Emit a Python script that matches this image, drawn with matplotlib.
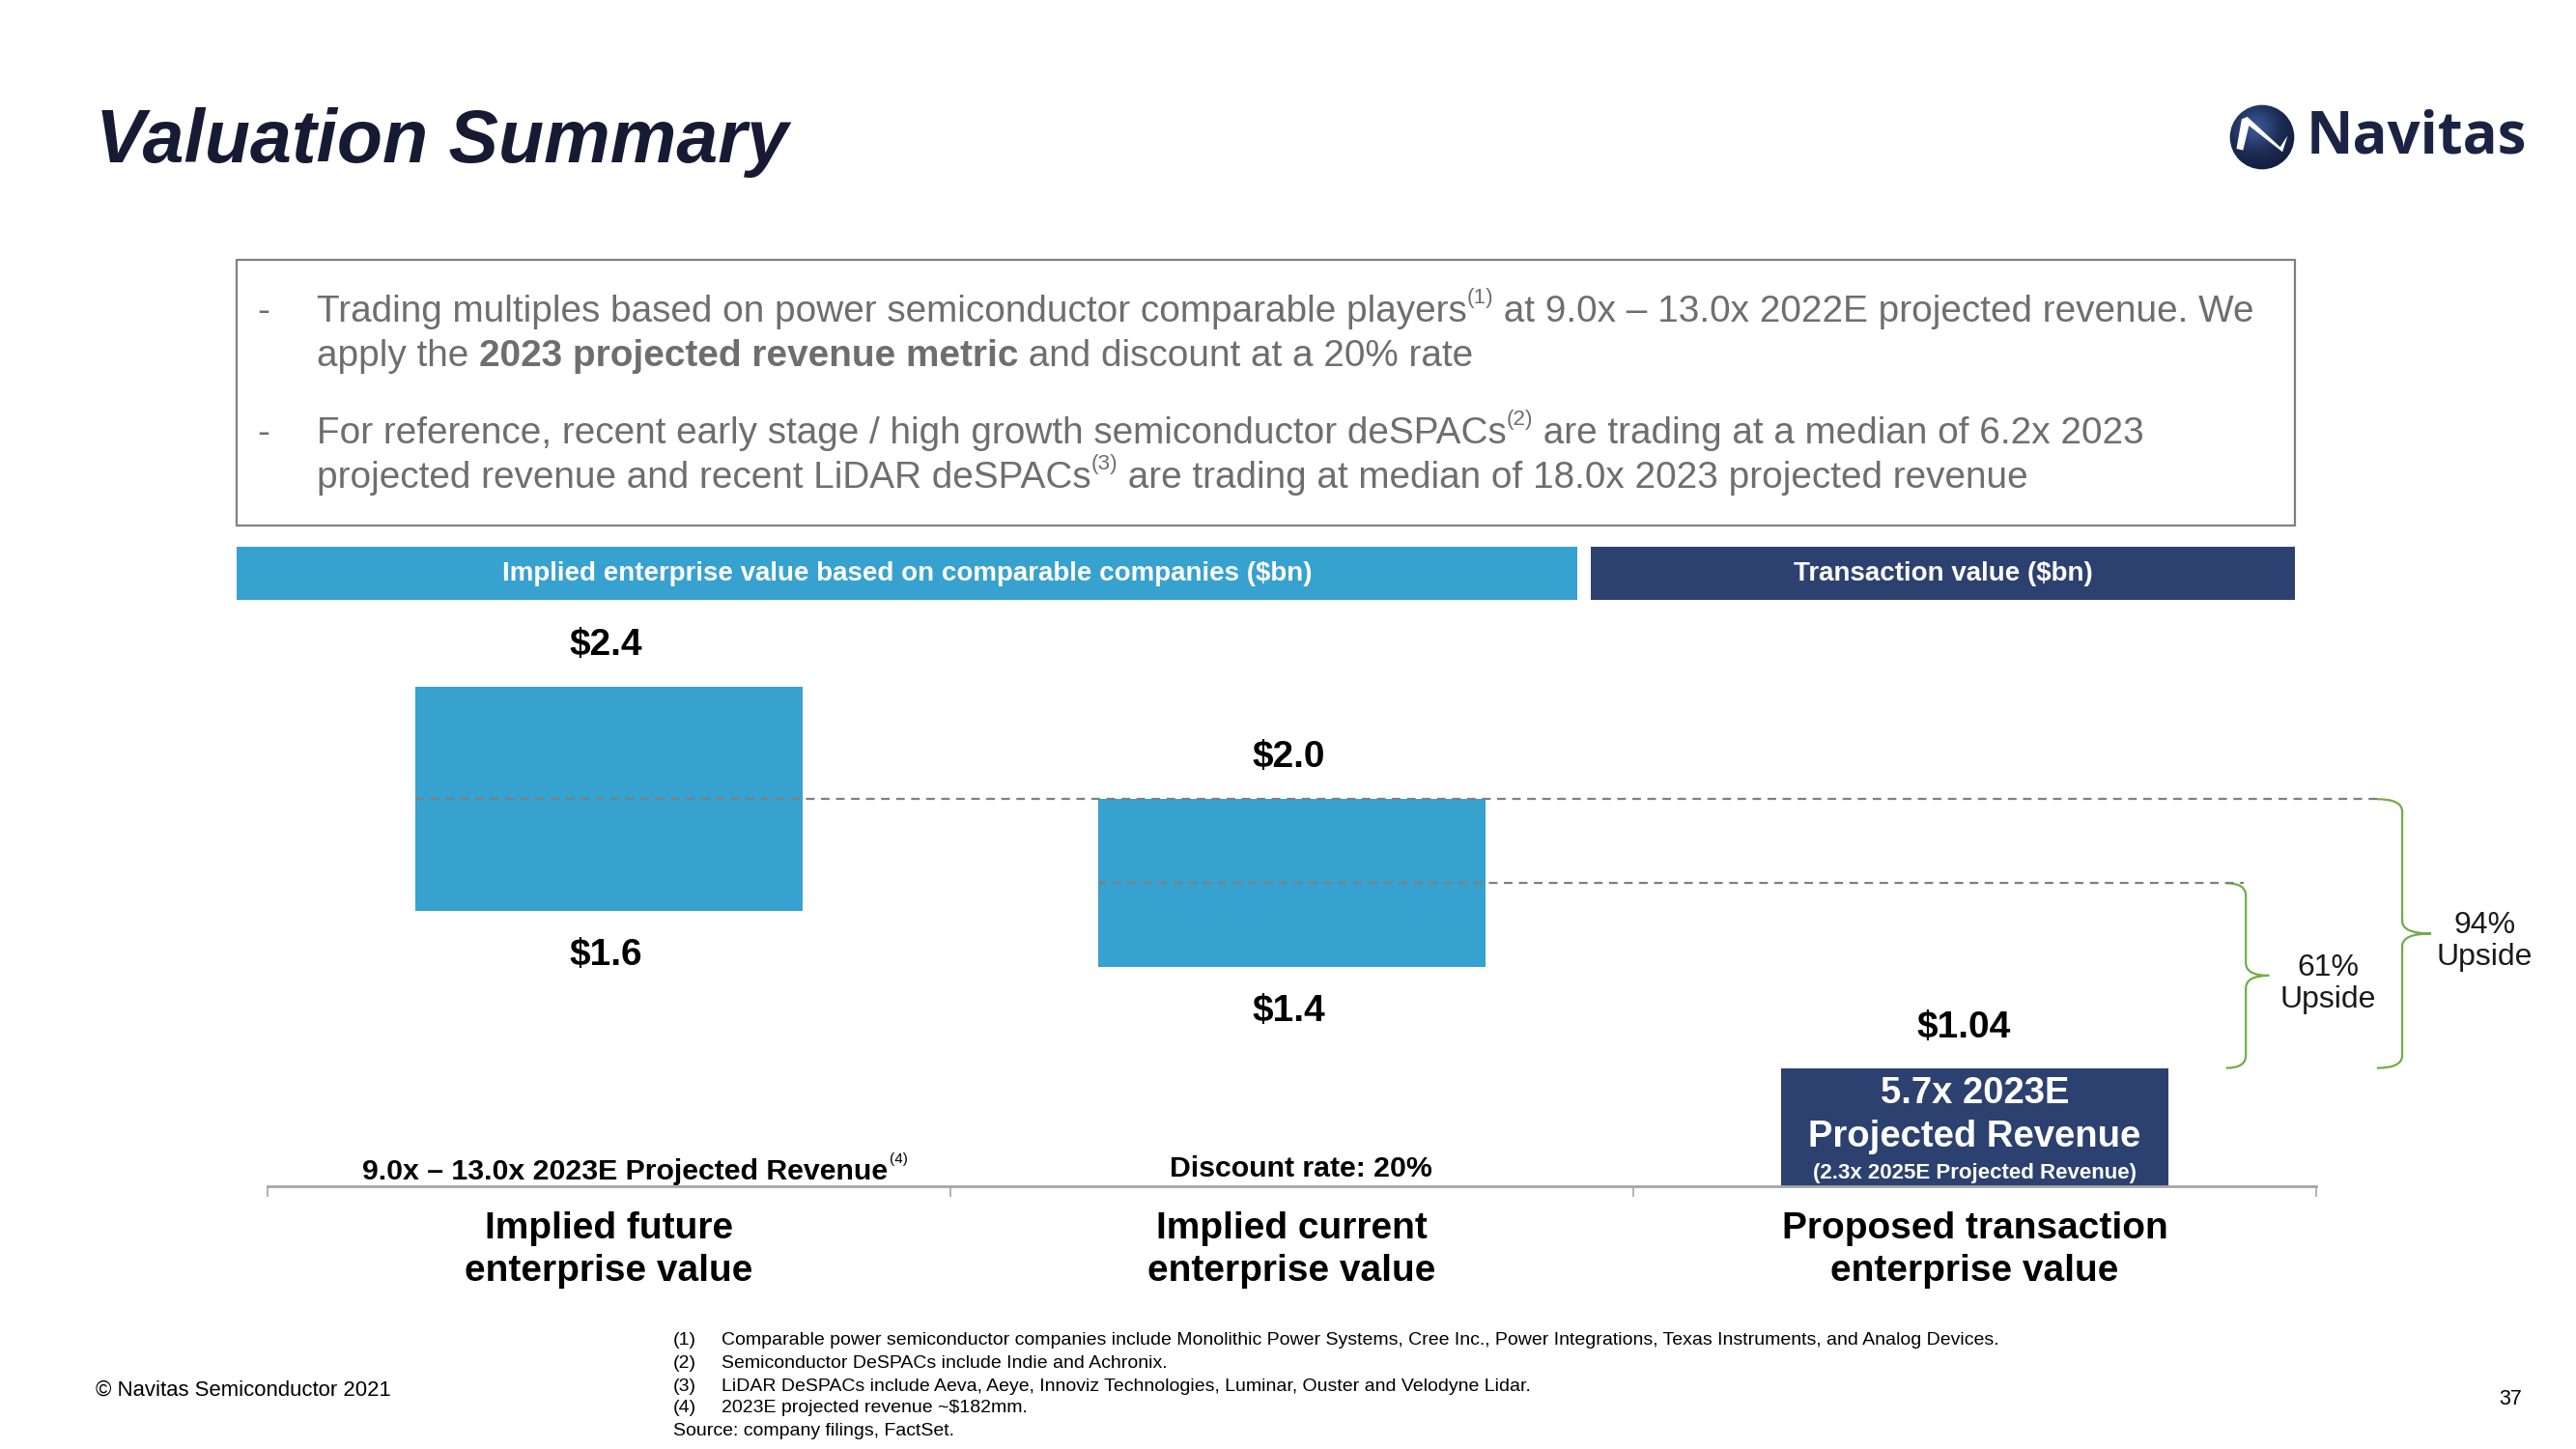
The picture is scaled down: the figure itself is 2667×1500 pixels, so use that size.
import numpy as np
import matplotlib
matplotlib.use("Agg")
import matplotlib.pyplot as plt
from matplotlib.patches import Rectangle, Circle, PathPatch
from matplotlib.path import Path

plt.rcParams['font.family'] = ['Liberation Sans', 'DejaVu Sans']

# ---- data ----
categories = ["Implied future\nenterprise value",
              "Implied current\nenterprise value",
              "Proposed transaction\nenterprise value"]
ev_high = [2.4, 2.0]
ev_low = [1.6, 1.4]
transaction_value = 1.04
category_notes = ["9.0x \u2013 13.0x 2023E Projected Revenue", "Discount rate: 20%"]
box_lines = ["5.7x 2023E\nProjected Revenue", "(2.3x 2025E Projected Revenue)"]
upside_pct = [94, 61]
upside_from = [2.0, 1.7]
headers = ["Implied enterprise value based on comparable companies ($bn)",
           "Transaction value ($bn)"]
footnotes = [
    ("(1)", "Comparable power semiconductor companies include Monolithic Power Systems, Cree Inc., "
            "Power Integrations, Texas Instruments, and Analog Devices."),
    ("(2)", "Semiconductor DeSPACs include Indie and Achronix."),
    ("(3)", "LiDAR DeSPACs include Aeva, Aeye, Innoviz Technologies, Luminar, Ouster and Velodyne Lidar."),
    ("(4)", "2023E projected revenue ~$182mm."),
]
source = "Source: company filings, FactSet."

LIGHT = '#37A1CF'
NAVY = '#2C4170'
TITLE = '#161B33'
GREY_TXT = '#6E6E6E'
GREEN = '#70AD47'

W, H, DPI = 2667, 1500, 100
fig = plt.figure(figsize=(W / DPI, H / DPI), dpi=DPI)
r = fig.canvas.get_renderer()


def fx(x):
    return x / W


def fy(y):
    return 1 - y / H


def seg_width(s, **kw):
    t1 = fig.text(0, 0, 'l' + s + 'l', **kw)
    t2 = fig.text(0, 0, 'll', **kw)
    w = t1.get_window_extent(r).width - t2.get_window_extent(r).width
    t1.remove()
    t2.remove()
    return w


def draw_runs(x, y, parts, size, color):
    # parts: (text, bold, superscript)
    for s, bold, sup in parts:
        kw = dict(size=size * 0.58 if sup else size,
                  weight='bold' if bold else 'normal', color=color)
        yy = y - (size * 0.48 * DPI / 72 if sup else 0)
        fig.text(fx(x), fy(yy), s, va='baseline', ha='left', **kw)
        x += seg_width(s, **kw)


# ---- title and logo ----
fig.text(fx(99), fy(148), "Valuation Summary", size=55.5, weight='bold',
         style='italic', color=TITLE, va='center', ha='left')

lax = fig.add_axes([fx(2308), fy(176), 68 / W, 68 / H])
lax.set_xlim(-1, 1)
lax.set_ylim(-1, 1)
lax.axis('off')
gx, gy = np.meshgrid(np.linspace(-1, 1, 100), np.linspace(-1, 1, 100))
grad = np.sqrt((gx + 0.2) ** 2 + (gy - 0.3) ** 2)
im = lax.imshow(grad, extent=(-1, 1, -1, 1), origin='lower',
                cmap=matplotlib.colors.LinearSegmentedColormap.from_list(
                    'nv', ['#3D5C9A', '#1C2C55', '#0E1733']), vmin=0, vmax=1.6)
clip = Circle((0, 0), 0.98, transform=lax.transData)
im.set_clip_path(clip)
swoosh = np.array([(-0.78, -0.35), (-0.62, 0.55), (-0.45, 0.62), (0.55, -0.30),
                   (0.78, 0.05), (0.62, -0.45), (-0.40, 0.35), (-0.58, -0.40)])
lax.add_patch(plt.Polygon(swoosh, closed=True, color='white', lw=0))
fig.text(fx(2388), fy(143), "Navitas", size=43, weight='bold', color='#1B2345',
         va='center', ha='left', family=['Open Sans', 'DejaVu Sans'])

# ---- text box ----
fig.add_artist(Rectangle((fx(245), fy(544)), (2376 - 245) / W, (544 - 269) / H,
                         transform=fig.transFigure, fill=False,
                         edgecolor='#808080', lw=1.6))
bsize = 27.9
for y in (333, 459):
    fig.text(fx(266), fy(y), "-", size=bsize, color=GREY_TXT, va='baseline')
draw_runs(328, 333, [("Trading multiples based on power semiconductor comparable players", False, False),
                     ("(1)", False, True),
                     (" at 9.0x \u2013 13.0x 2022E projected revenue. We", False, False)],
          bsize, GREY_TXT)
draw_runs(328, 379, [("apply the ", False, False),
                     ("2023 projected revenue metric", True, False),
                     (" and discount at a 20% rate", False, False)],
          bsize, GREY_TXT)
draw_runs(328, 459, [("For reference, recent early stage / high growth semiconductor deSPACs", False, False),
                     ("(2)", False, True),
                     (" are trading at a median of 6.2x 2023", False, False)],
          bsize, GREY_TXT)
draw_runs(328, 505, [("projected revenue and recent LiDAR deSPACs", False, False),
                     ("(3)", False, True),
                     (" are trading at median of 18.0x 2023 projected revenue", False, False)],
          bsize, GREY_TXT)

# ---- header bars ----
for (x0, x1), color, label in zip([(245, 1633), (1647, 2376)], [LIGHT, NAVY], headers):
    fig.add_artist(Rectangle((fx(x0), fy(621)), (x1 - x0) / W, (621 - 566) / H,
                             transform=fig.transFigure, color=color, lw=0))
    fig.text(fx((x0 + x1) / 2), fy(594), label, size=20, weight='bold',
             color='white', ha='center', va='center')

# ---- chart ----
ax = fig.add_axes([fx(277), fy(1228), (2398 - 277) / W, (1228 - 640) / H])
ymin, ymax = 0.618, 2.6456
ax.set_xlim(-0.5, 2.5)
ax.set_ylim(ymin, ymax)
bw = 0.567
xs = np.arange(len(categories))

ax.bar(xs[:2], np.array(ev_high) - np.array(ev_low), bottom=ev_low, width=bw,
       color=LIGHT, lw=0, zorder=2)
ax.bar(xs[2], transaction_value - ymin, bottom=ymin, width=bw, color=NAVY, lw=0, zorder=2)

for x, hi, lo in zip(xs, ev_high, ev_low):
    ax.annotate(f"${hi:.1f}", (x, hi), xytext=(-2, 31), textcoords='offset points',
                ha='center', va='center', size=28, weight='bold')
    ax.annotate(f"${lo:.1f}", (x, lo), xytext=(-2, -33), textcoords='offset points',
                ha='center', va='center', size=28, weight='bold')
ax.annotate(f"${transaction_value:.2f}", (xs[2], transaction_value), xytext=(-8, 30),
            textcoords='offset points', ha='center', va='center', size=28, weight='bold')
ax.annotate(box_lines[0], (xs[2], ymin), xytext=(0, 53), textcoords='offset points',
            ha='center', va='center', size=27.5, weight='bold', color='white',
            linespacing=1.3)
ax.annotate(box_lines[1], (xs[2], ymin), xytext=(0, 10), textcoords='offset points',
            ha='center', va='center', size=16, weight='bold', color='white')

# notes above the axis
ax.annotate(category_notes[0], (xs[0], ymin), xytext=(12, 11), textcoords='offset points',
            ha='center', va='center', size=21.8, weight='bold')
ax.annotate("(4)", (xs[0], ymin), xytext=(216, 20), textcoords='offset points',
            ha='center', va='center', size=11)
ax.annotate(category_notes[1], (xs[1], ymin), xytext=(7, 13), textcoords='offset points',
            ha='center', va='center', size=21.8, weight='bold')

# dashed reference lines and braces
line_x = [(-bw / 2, 2.589), (1 - bw / 2, 2.394)]
brace_x = [(2.589, 2.626, 2.668), (2.368, 2.397, 2.431)]
text_off = [40, 44]
for pct, lvl, (lx0, lx1), (be, bs, bt), off in zip(upside_pct, upside_from, line_x, brace_x, text_off):
    ax.plot([lx0, lx1], [lvl, lvl], ls=(0, (4, 3)), color='#7F7F7F', lw=1.6,
            clip_on=False, zorder=3)
    y_top, y_bot = lvl, transaction_value
    ym = (y_top + y_bot) / 2
    rr = 0.045
    verts = [(be, y_top), (bs, y_top), (bs, y_top - rr), (bs, ym + rr),
             (bs, ym), (bt, ym), (bs, ym), (bs, ym - rr), (bs, y_bot + rr),
             (bs, y_bot), (be, y_bot)]
    codes = [Path.MOVETO, Path.CURVE3, Path.CURVE3, Path.LINETO, Path.CURVE3,
             Path.CURVE3, Path.CURVE3, Path.CURVE3, Path.LINETO, Path.CURVE3, Path.CURVE3]
    ax.add_patch(PathPatch(Path(verts, codes), fill=False, edgecolor=GREEN,
                           lw=1.6, clip_on=False))
    ax.annotate(f"{pct}%\nUpside", (bt, ym), xytext=(off, -6), textcoords='offset points',
                ha='center', va='center', size=23, linespacing=1.15, color='#1A1A1A',
                annotation_clip=False)

for s in ['top', 'right', 'left']:
    ax.spines[s].set_visible(False)
ax.spines['bottom'].set_color('#A6A6A6')
ax.spines['bottom'].set_linewidth(2)
ax.set_yticks([])
ax.set_xticks(xs)
ax.set_xticklabels(categories, size=28, weight='bold', linespacing=1.28)
ax.tick_params(axis='x', which='major', length=0, pad=19)
ax.set_xticks([-0.5, 0.5, 1.5, 2.5], minor=True)
ax.tick_params(axis='x', which='minor', length=8, width=1.2, color='#A6A6A6',
               direction='out')
ax.patch.set_alpha(0)

# ---- footer ----
fy_lines = [1388, 1412, 1435, 1458]
for (num, txt), y in zip(footnotes, fy_lines):
    fig.text(fx(697), fy(y), num, size=14, va='center', ha='left')
    fig.text(fx(747), fy(y), txt, size=14, va='center', ha='left')
fig.text(fx(697), fy(1481), source, size=14, va='center', ha='left')
fig.text(fx(99), fy(1439), "\u00a9 Navitas Semiconductor 2021", size=15.9,
         va='center', ha='left')
fig.text(fx(2599), fy(1448), "37", size=15.5, va='center', ha='center')

fig.savefig("out.png", dpi=DPI)
